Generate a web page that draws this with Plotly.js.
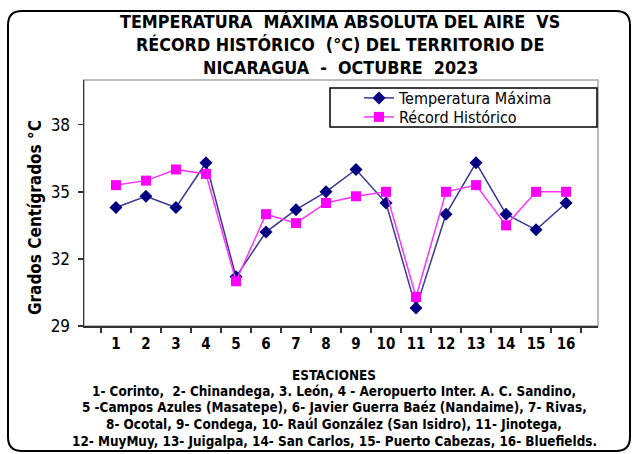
<!DOCTYPE html>
<html>
<head>
<meta charset="utf-8">
<script src="https://cdn.plot.ly/plotly-3.0.1.min.js"></script>
<style>
  html, body { margin: 0; padding: 0; background: #fff; }
  #chart { width: 636px; height: 454px; }
</style>
</head>
<body>
<div id="chart"></div>
<script>
// estaciones 1..16
var estaciones = ["1","2","3","4","5","6","7","8","9","10","11","12","13","14","15","16"];
var tempMaxima = [34.3, 34.8, 34.3, 36.3, 31.2, 33.2, 34.2, 35.0, 36.0, 34.5, 29.8, 34.0, 36.3, 34.0, 33.3, 34.5];
var recordHist = [35.3, 35.5, 36.0, 35.8, 31.0, 34.0, 33.6, 34.5, 34.8, 35.0, 30.3, 35.0, 35.3, 33.5, 35.0, 35.0];
var yTicks = [29, 32, 35, 38];

var titulo = [
  "TEMPERATURA\u00a0\u00a0MÁXIMA ABSOLUTA DEL AIRE\u00a0\u00a0VS",
  "RÉCORD HISTÓRICO\u00a0\u00a0(°C) DEL TERRITORIO DE",
  "NICARAGUA\u00a0\u00a0-\u00a0\u00a0OCTUBRE\u00a0\u00a02023"
];
var notas = [
  "ESTACIONES",
  "1- Corinto,\u00a0\u00a02- Chinandega, 3. León, 4 - Aeropuerto Inter. A. C. Sandino,",
  "5 -Campos Azules (Masatepe), 6- Javier Guerra Baéz (Nandaime), 7- Rivas,",
  "8- Ocotal, 9- Condega, 10- Raúl González (San Isidro), 11- Jinotega,",
  "12- MuyMuy, 13- Juigalpa, 14- San Carlos, 15- Puerto Cabezas, 16- Bluefields."
];

var W = 636, H = 454;
var L = 84, R = 598, T = 80, B = 326;
function px(x) { return (x - L) / (R - L); }
function py(y) { return (B - y) / (B - T); }

var font = "'DejaVu Sans Condensed', 'Liberation Sans', Arial, sans-serif";

var trace1 = {
  x: estaciones, y: tempMaxima,
  name: "Temperatura Máxima",
  type: "scatter", mode: "lines+markers",
  line: { color: "#3a3a96", width: 1.5 },
  marker: { symbol: "diamond", size: 10, color: "#000080" },
  legend: "legend"
};
var trace2 = {
  x: estaciones, y: recordHist,
  name: "Récord Histórico",
  type: "scatter", mode: "lines+markers",
  line: { color: "#ff33ff", width: 1.5 },
  marker: { symbol: "square", size: 10, color: "#ff00ff" },
  legend: "legend2"
};

var annotations = [{
  xref: "paper", yref: "paper", x: px(35), y: py(218),
  xanchor: "center", yanchor: "middle",
  text: "<b>Grados Centígrados °C</b>", textangle: -90, showarrow: false,
  font: { family: font, size: 17, color: "#000" }
}];
var tituloY = [22, 45, 68];
titulo.forEach(function (t, i) {
  annotations.push({
    xref: "paper", yref: "paper", x: px(340), y: py(tituloY[i]),
    xanchor: "center", yanchor: "middle",
    text: "<b>" + t + "</b>", showarrow: false,
    font: { family: font, size: 17.8, color: "#000" }
  });
});
var lineY = [375, 391, 407, 424, 441];
notas.forEach(function (t, i) {
  annotations.push({
    xref: "paper", yref: "paper", x: px(334), y: py(lineY[i]),
    xanchor: "center", yanchor: "middle",
    text: "<b>" + t + "</b>", showarrow: false,
    font: { family: font, size: 13.4, color: "#000" }
  });
});

// marco redondeado, borde del área de trazado y caja de la leyenda
function framePath(x0, y0, x1, y1, r) {
  return "M" + px(x0 + r) + "," + py(y0) +
    " L" + px(x1 - r) + "," + py(y0) +
    " Q" + px(x1) + "," + py(y0) + " " + px(x1) + "," + py(y0 + r) +
    " L" + px(x1) + "," + py(y1 - r) +
    " Q" + px(x1) + "," + py(y1) + " " + px(x1 - r) + "," + py(y1) +
    " L" + px(x0 + r) + "," + py(y1) +
    " Q" + px(x0) + "," + py(y1) + " " + px(x0) + "," + py(y1 - r) +
    " L" + px(x0) + "," + py(y0 + r) +
    " Q" + px(x0) + "," + py(y0) + " " + px(x0 + r) + "," + py(y0) + " Z";
}

var shapes = [
  { type: "path", xref: "paper", yref: "paper", path: framePath(8, 11, 630, 451, 14),
    line: { color: "#000", width: 2 }, layer: "below" },
  { type: "rect", xref: "paper", yref: "paper", x0: 0, x1: 1, y0: 0, y1: 1,
    line: { color: "#a6a6a6", width: 1.5 }, layer: "below" },
  { type: "rect", xref: "paper", yref: "paper", x0: px(330), x1: px(597), y0: py(88), y1: py(127),
    line: { color: "#000", width: 1.5 }, fillcolor: "#fff", layer: "below" }
];

function leyenda(yc) {
  return {
    x: px(359), y: py(yc), xanchor: "left", yanchor: "middle",
    bgcolor: "rgba(0,0,0,0)", borderwidth: 0, itemwidth: 30,
    font: { family: font, size: 16, color: "#000" }
  };
}

var layout = {
  width: W, height: H,
  margin: { l: L, r: W - R, t: T, b: H - B },
  paper_bgcolor: "#fff", plot_bgcolor: "rgba(0,0,0,0)",
  showlegend: true,
  xaxis: {
    type: "category", tickson: "boundaries",
    ticks: "outside", ticklen: 5, tickcolor: "#333", tickwidth: 1.5,
    showline: true, linecolor: "#333", linewidth: 1.5,
    showgrid: false, zeroline: false, ticklabelstandoff: 3,
    tickfont: { family: font, size: 15, color: "#000", weight: "bold" }
  },
  yaxis: {
    range: [29, 40], tickvals: yTicks,
    ticks: "outside", ticklen: 5, tickcolor: "#333", tickwidth: 1.5,
    showline: true, linecolor: "#333", linewidth: 1.5,
    showgrid: false, zeroline: false, ticklabelstandoff: 4,
    tickfont: { family: font, size: 17, color: "#000" }
  },
  legend: leyenda(98),
  legend2: leyenda(117),
  annotations: annotations,
  shapes: shapes
};

Plotly.newPlot("chart", [trace1, trace2], layout, { displayModeBar: false, staticPlot: true });
</script>
</body>
</html>
